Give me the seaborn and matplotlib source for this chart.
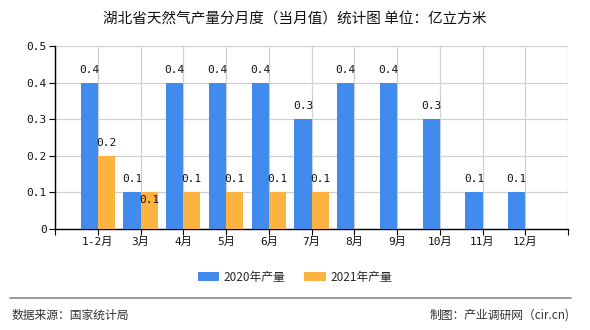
import matplotlib
matplotlib.use("Agg")
import matplotlib.pyplot as plt
import seaborn as sns
import pandas as pd
import numpy as np

categories = ["1-2月", "3月", "4月", "5月", "6月", "7月", "8月", "9月", "10月", "11月", "12月"]
values_2020 = [0.4, 0.1, 0.4, 0.4, 0.4, 0.3, 0.4, 0.4, 0.3, 0.1, 0.1]
values_2021 = [0.2, 0.1, 0.1, 0.1, 0.1, 0.1, None, None, None, None, None]
series_names = ["2020年产量", "2021年产量"]
yticks = [0, 0.1, 0.2, 0.3, 0.4, 0.5]
title = "湖北省天然气产量分月度（当月值）统计图 单位：亿立方米"
source = "数据来源：国家统计局"
credit = "制图：产业调研网（cir.cn)"

colors = ["#418BEC", "#FCB33F"]

sns.set_theme(style="white")
plt.rcParams['font.family'] = ['Noto Sans CJK SC', 'DejaVu Sans']

rows = []
for c, a, b in zip(categories, values_2020, values_2021):
    rows.append({"month": c, "series": series_names[0], "value": a})
    rows.append({"month": c, "series": series_names[1], "value": b})
df = pd.DataFrame(rows)

fig = plt.figure(figsize=(5.9, 3.3), dpi=100)
ax = fig.add_axes([55/590, 1-229/330, (568-55)/590, (229-46)/330])

sns.barplot(data=df, x="month", y="value", hue="series", order=categories,
            hue_order=series_names, palette=colors, ax=ax, saturation=1,
            width=0.8, legend=False, errorbar=None, zorder=3, linewidth=0,
            edgecolor="none")

ax.set_xlim(-1, len(categories))
ax.set_ylim(0, 0.5)
ax.set_yticks(yticks)
mono = ['DejaVu Sans Mono', 'Noto Sans CJK SC']
ax.set_yticklabels(["0" if v == 0 else f"{v:.1f}" for v in yticks], family=mono, fontsize=8)
xt = list(range(-1, len(categories) + 1))
ax.set_xticks(xt)
ax.set_xticklabels([""] + categories + [""], family=mono, fontsize=8)
ax.set_xlabel("")
ax.set_ylabel("")
ax.grid(True, color="#d0d0d0", linewidth=0.9, zorder=0)
ax.set_axisbelow(True)
for s in ["top", "right"]:
    ax.spines[s].set_visible(False)
for s in ["left", "bottom"]:
    ax.spines[s].set_color("black")
    ax.spines[s].set_linewidth(1.0)
ax.tick_params(axis="both", which="both", length=4, width=0.8, color="black",
               direction="out", bottom=True, left=True, pad=2, labelcolor="#111111")

# value labels
for i, (a, b) in enumerate(zip(values_2020, values_2021)):
    ax.text(i - 0.2, a + 0.022, f"{a:.1f}", ha="center", va="bottom",
            fontsize=8, family=mono, color="#111111", zorder=5)
    if b is not None:
        if b == a:
            ax.text(i + 0.2, b - 0.008, f"{b:.1f}", ha="center", va="top",
                    fontsize=8, family=mono, color="#111111", zorder=5)
        else:
            ax.text(i + 0.2, b + 0.022, f"{b:.1f}", ha="center", va="bottom",
                    fontsize=8, family=mono, color="#111111", zorder=5)

fig.text(0.5, 1 - 20/330, title, ha="center", va="center", fontsize=10.5, color="#111111")

# legend
from matplotlib.patches import Patch
handles = [Patch(facecolor=colors[0], edgecolor="none"), Patch(facecolor=colors[1], edgecolor="none")]
fig.legend(handles, series_names, loc="center", bbox_to_anchor=(0.5, 1 - 277/330),
           ncol=2, frameon=False, fontsize=8.5, handlelength=1.8, handleheight=0.9,
           columnspacing=1.6, handletextpad=0.4)

fig.add_artist(plt.Line2D([10/590, 571/590], [1 - 298/330, 1 - 298/330],
                          color="#888888", linewidth=1.2))
fig.text(12/590, 1 - 315/330, source, ha="left", va="center", fontsize=8.5, color="#333333")
fig.text(570/590, 1 - 315/330, credit, ha="right", va="center", fontsize=8.5, color="#333333")

fig.savefig("out.png", dpi=100)
